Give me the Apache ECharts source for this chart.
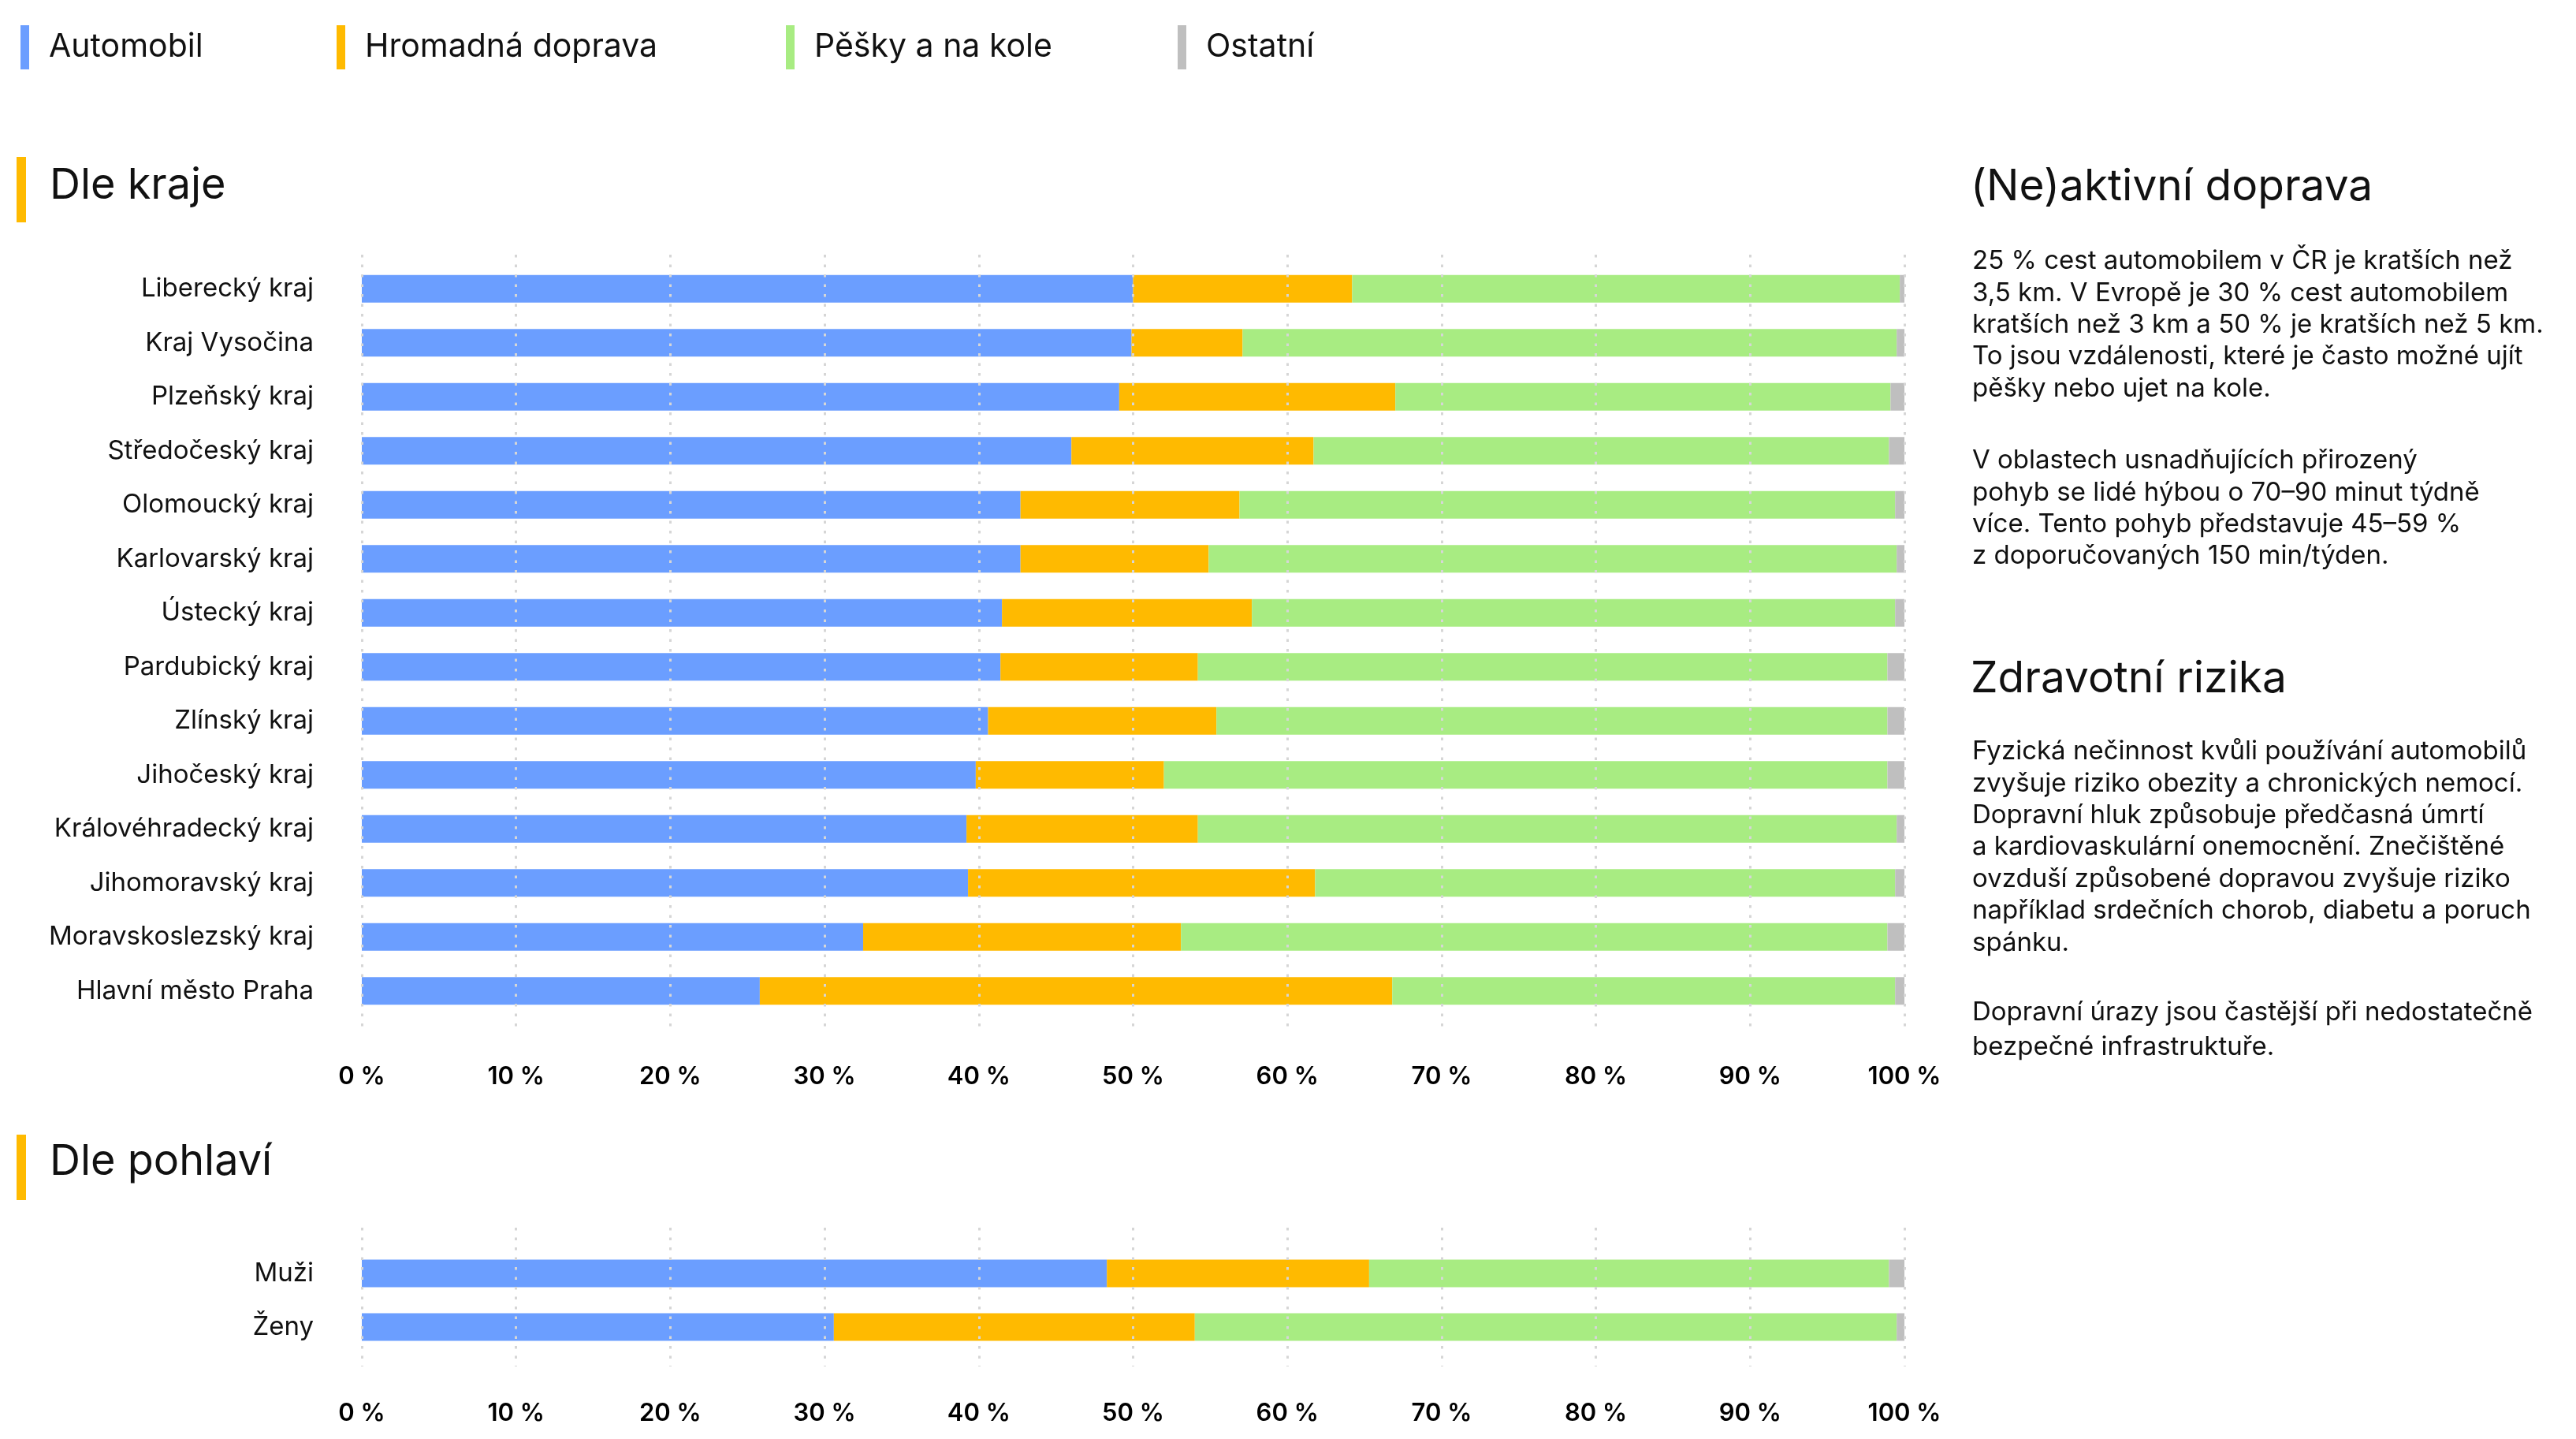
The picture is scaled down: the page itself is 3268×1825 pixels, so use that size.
<!DOCTYPE html>
<html>
<head>
<meta charset="utf-8">
<script src="https://cdn.jsdelivr.net/npm/echarts@6/dist/echarts.min.js"></script>
<style>
html,body{margin:0;padding:0;background:#fff;}
#chart{width:3268px;height:1825px;}
</style>
</head>
<body>
<div id="chart"></div>
<script>
// ---- data ----
const seriesNames = ['Automobil', 'Hromadná doprava', 'Pěšky a na kole', 'Ostatní'];
const seriesColors = ['#6b9eff', '#ffba00', '#a8ec82', '#bfbfbf'];

const regionCategories = ['Liberecký kraj','Kraj Vysočina','Plzeňský kraj','Středočeský kraj','Olomoucký kraj','Karlovarský kraj','Ústecký kraj','Pardubický kraj','Zlínský kraj','Jihočeský kraj','Královéhradecký kraj','Jihomoravský kraj','Moravskoslezský kraj','Hlavní město Praha'];
const regionAuto    = [50.0, 49.9, 49.1, 46.0, 42.7, 42.7, 41.5, 41.4, 40.6, 39.8, 39.2, 39.3, 32.5, 25.8];
const regionPublic  = [14.2,  7.2, 17.9, 15.7, 14.2, 12.2, 16.2, 12.8, 14.8, 12.2, 15.0, 22.5, 20.6, 41.0];
const regionActive  = [35.5, 42.4, 32.1, 37.3, 42.5, 44.6, 41.7, 44.7, 43.5, 46.9, 45.3, 37.6, 45.8, 32.6];
const regionOther   = [ 0.3,  0.5,  0.9,  1.0,  0.6,  0.5,  0.6,  1.1,  1.1,  1.1,  0.5,  0.6,  1.1,  0.6];

const genderCategories = ['Muži', 'Ženy'];
const genderAuto   = [48.3, 30.6];
const genderPublic = [17.0, 23.4];
const genderActive = [33.7, 45.5];
const genderOther  = [ 1.0,  0.5];

const sectionTitles = ['Dle kraje', 'Dle pohlaví'];
const sideHeadings = ['(Ne)aktivní doprava', 'Zdravotní rizika'];
const sideParagraphs = [
  ['25 % cest automobilem v ČR je kratších než', '3,5 km. V Evropě je 30 % cest automobilem', 'kratších než 3 km a 50 % je kratších než 5 km.', 'To jsou vzdálenosti, které je často možné ujít', 'pěšky nebo ujet na kole.'],
  ['V oblastech usnadňujících přirozený', 'pohyb se lidé hýbou o 70–90 minut týdně', 'více. Tento pohyb představuje 45–59 %', 'z doporučovaných 150 min/týden.'],
  ['Fyzická nečinnost kvůli používání automobilů', 'zvyšuje riziko obezity a chronických nemocí.', 'Dopravní hluk způsobuje předčasná úmrtí', 'a kardiovaskulární onemocnění. Znečištěné', 'ovzduší způsobené dopravou zvyšuje riziko', 'například srdečních chorob, diabetu a poruch', 'spánku.'],
  ['Dopravní úrazy jsou častější při nedostatečně', 'bezpečné infrastruktuře.']
];

// ---- chart ----
const FONT = 'Inter, "Noto Sans", sans-serif';
const chart = echarts.init(document.getElementById('chart'), null, {renderer: 'canvas'});

const regionData = [regionAuto, regionPublic, regionActive, regionOther];
const genderData = [genderAuto, genderPublic, genderActive, genderOther];

const PLOT_LEFT = 459, PLOT_W = 1957;

const series = [];
seriesNames.forEach((n, i) => {
  series.push({name: n, type: 'bar', stack: 'region', xAxisIndex: 0, yAxisIndex: 0,
    barWidth: 35, itemStyle: {color: seriesColors[i]}, data: regionData[i], z: 2});
});
seriesNames.forEach((n, i) => {
  series.push({name: n, type: 'bar', stack: 'gender', xAxisIndex: 1, yAxisIndex: 1,
    barWidth: 35, itemStyle: {color: seriesColors[i]}, data: genderData[i], z: 2});
});

const legendLefts = [21, 422, 992, 1489];
const legends = seriesNames.map((n, i) => ({
  data: [n], left: legendLefts[i], top: 27, orient: 'horizontal',
  icon: 'rect', itemWidth: 11, itemHeight: 56,
  textStyle: {fontFamily: FONT, fontSize: 41, color: '#111', padding: [0, 0, 0, 20]},
  selectedMode: true
}));

const catLabel = {fontFamily: FONT, fontSize: 33, color: '#111', margin: 61};
const tickLabel = {fontFamily: FONT, fontSize: 31, fontWeight: 600, color: '#000', margin: 44,
  formatter: v => v + ' %'};
const gridLineStyle = {color: '#d6d6d6', width: 3, type: [3.5, 9]};

const option = {
  animation: false,
  textStyle: {fontFamily: FONT},
  legend: legends,
  grid: [
    {left: PLOT_LEFT, width: PLOT_W, top: 332, height: 959},
    {left: PLOT_LEFT, width: PLOT_W, top: 1581, height: 136},
    {left: PLOT_LEFT, width: PLOT_W, top: 323, height: 983},
    {left: PLOT_LEFT, width: PLOT_W, top: 1557, height: 176}
  ],
  xAxis: [
    {gridIndex: 0, type: 'value', min: 0, max: 100, show: false},
    {gridIndex: 1, type: 'value', min: 0, max: 100, show: false},
    {gridIndex: 2, type: 'value', min: 0, max: 100, interval: 10, z: 10,
      axisLine: {show: false}, axisTick: {show: false}, axisLabel: tickLabel,
      splitLine: {show: true, lineStyle: gridLineStyle}},
    {gridIndex: 3, type: 'value', min: 0, max: 100, interval: 10, z: 10,
      axisLine: {show: false}, axisTick: {show: false}, axisLabel: tickLabel,
      splitLine: {show: true, lineStyle: gridLineStyle}}
  ],
  yAxis: [
    {gridIndex: 0, type: 'category', inverse: true, data: regionCategories,
      axisLine: {show: false}, axisTick: {show: false}, axisLabel: catLabel},
    {gridIndex: 1, type: 'category', inverse: true, data: genderCategories,
      axisLine: {show: false}, axisTick: {show: false}, axisLabel: catLabel},
    {gridIndex: 2, type: 'value', min: 0, max: 1, show: false},
    {gridIndex: 3, type: 'value', min: 0, max: 1, show: false}
  ],
  series: series,
  graphic: []
};

// section titles with orange markers
const titleDefs = [{y: 199, h: 83, ty: 236}, {y: 1439, h: 83, ty: 1474}];
titleDefs.forEach((d, i) => {
  option.graphic.push({type: 'rect', shape: {x: 21, y: d.y, width: 12, height: d.h}, style: {fill: '#ffba00'}});
  option.graphic.push({type: 'text', style: {x: 63, y: d.ty, text: sectionTitles[i], fill: '#111',
    fontFamily: FONT, fontSize: 54, verticalAlign: 'middle', align: 'left'}});
});

// side text
const SIDE_X = 2500;
const headY = [237, 861];
sideHeadings.forEach((t, i) => {
  option.graphic.push({type: 'text', style: {x: SIDE_X, y: headY[i], text: t, fill: '#111',
    fontFamily: FONT, fontSize: 55, verticalAlign: 'middle', align: 'left'}});
});
const paraTop = [311, 564, 933, 1262];
const LH = 40.4;
sideParagraphs.forEach((lines, i) => {
  option.graphic.push({type: 'text', style: {x: SIDE_X + 2, y: paraTop[i], text: lines.join('\n'), fill: '#111',
    fontFamily: FONT, fontSize: 33, lineHeight: (i === 3 ? 44 : LH), verticalAlign: 'top', align: 'left'}});
});

chart.setOption(option);
</script>
</body>
</html>
